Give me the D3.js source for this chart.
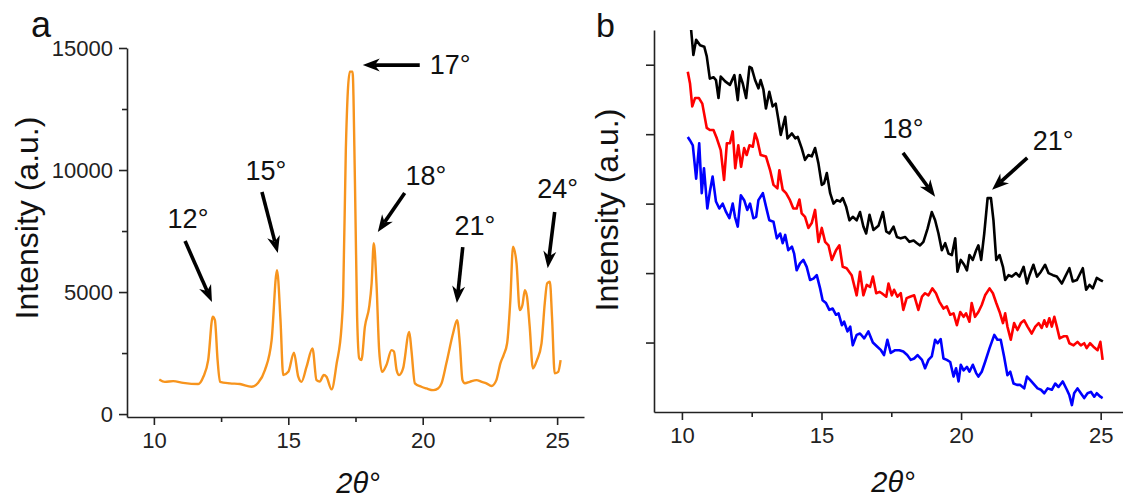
<!DOCTYPE html>
<html>
<head>
<meta charset="utf-8">
<script src="https://cdn.jsdelivr.net/npm/d3@7"></script>
<style>
  body { margin: 0; background: #fff; }
  svg { display: block; font-family: Arial, "Liberation Sans", sans-serif; }
  .axis path, .axis line { stroke: #222; stroke-width: 1.6; }
</style>
</head>
<body>
<svg id="chart" width="1123" height="498"></svg>
<script>
// Panel a: XRD pattern (2theta, intensity)
var aTheta = [10.2, 10.41, 10.72, 11.09, 11.65, 11.84, 12.02, 12.19, 12.27, 12.37, 12.46, 12.83, 13.2, 13.64, 13.88,
  14.13, 14.38, 14.58, 14.71, 14.81, 15.0, 15.21, 15.37, 15.49, 15.68, 15.9, 16.05, 16.17, 16.32, 16.42, 16.61, 16.8,
  16.98, 17.04, 17.14, 17.29, 17.39, 17.48, 17.56, 17.64, 17.72, 17.85, 18.01, 18.1, 18.18, 18.28, 18.38, 18.49, 18.65,
  18.84, 18.93, 19.03, 19.12, 19.27, 19.5, 19.58, 19.71, 19.95, 20.14, 20.39, 20.57, 20.7, 20.88, 21.13, 21.28, 21.38,
  21.48, 21.57, 21.75, 22.0, 22.2, 22.37, 22.56, 22.74, 22.89, 23.01, 23.14, 23.26, 23.36, 23.49, 23.61, 23.71, 23.8,
  23.88, 23.98, 24.1, 24.25, 24.42, 24.54, 24.63, 24.73, 24.81, 24.91, 25.04, 25.13];
var aIntensity = [1420, 1320, 1350, 1280, 1230, 1530, 2210, 3990, 3850, 2210, 1320, 1260, 1230, 1120, 1280,
  1800, 3030, 5900, 3850, 1600, 1730, 2510, 1530, 1320, 1940, 2690, 1390, 1330, 1600, 1530, 1010, 2080,
  3580, 4810, 10820, 14030, 14030, 9470, 3990, 2280, 2210, 3580, 4400, 5360, 7000, 5360, 2620, 1730, 2010,
  2620, 2560, 1800, 1600, 1870, 3370, 2620, 1260, 1120, 1050, 980, 1050, 1260, 2080, 3310, 3850, 2900,
  1390, 1260, 1320, 1390, 1320, 1260, 1150, 1390, 2080, 2420, 2900, 4670, 6860, 6180, 4260, 4470, 5080,
  4810, 3580, 1870, 2210, 2900, 4540, 5360, 5420, 3990, 1670, 1730, 2210];

// Panel b: three offset patterns [2theta, intensity a.u.]
var bBlack = [[10.33,5.5],[10.41,5.14],[10.51,5.36],[10.65,5.28],[10.8,5.26],[10.89,5.12],[11.0,4.8],[11.13,4.82],[11.22,4.78],[11.31,4.52],[11.39,4.83],[11.55,4.76],[11.72,4.71],[11.88,4.85],[12.0,4.49],[12.08,4.85],[12.18,4.73],[12.3,4.52],[12.42,4.97],[12.5,4.95],[12.62,4.78],[12.74,4.66],[12.82,4.78],[12.92,4.64],[13.01,4.37],[13.13,4.61],[13.25,4.4],[13.36,4.44],[13.46,4.2],[13.54,3.99],[13.7,4.25],[13.78,3.94],[13.94,4.01],[14.06,3.94],[14.15,3.96],[14.29,3.8],[14.41,3.63],[14.53,3.7],[14.65,3.68],[14.77,3.8],[14.89,3.58],[15.01,3.27],[15.09,3.29],[15.19,3.44],[15.31,3.15],[15.43,3.0],[15.55,3.05],[15.67,3.03],[15.76,3.08],[15.88,2.96],[16.0,2.76],[16.12,2.81],[16.26,2.76],[16.38,2.88],[16.5,2.67],[16.6,2.57],[16.72,2.84],[16.86,2.62],[17.04,2.68],[17.2,2.88],[17.32,2.6],[17.43,2.57],[17.58,2.67],[17.7,2.52],[17.84,2.5],[18.0,2.52],[18.15,2.45],[18.3,2.47],[18.42,2.43],[18.53,2.4],[18.65,2.45],[18.8,2.64],[18.95,2.88],[19.07,2.76],[19.19,2.57],[19.31,2.33],[19.43,2.43],[19.55,2.28],[19.67,2.26],[19.79,2.5],[19.87,2.02],[19.99,2.19],[20.11,2.12],[20.21,2.04],[20.3,2.26],[20.42,2.19],[20.54,2.33],[20.62,2.4],[20.72,2.19],[20.83,2.57],[20.95,3.08],[21.07,3.08],[21.16,2.76],[21.26,2.19],[21.38,2.26],[21.5,2.09],[21.58,1.9],[21.7,1.97],[21.82,1.95],[21.97,2.0],[22.09,1.95],[22.24,2.09],[22.36,1.85],[22.45,1.97],[22.59,2.12],[22.72,1.95],[22.86,2.02],[23.01,2.12],[23.13,2.0],[23.29,1.97],[23.43,1.95],[23.61,1.85],[23.73,1.95],[23.88,2.07],[24.0,1.88],[24.15,1.9],[24.36,2.07],[24.48,1.76],[24.6,1.83],[24.72,1.78],[24.86,1.93],[24.99,1.9],[25.08,1.88]];
var bRed = [[10.21,4.9],[10.29,4.73],[10.37,4.4],[10.47,4.52],[10.61,4.52],[10.73,4.44],[10.89,4.09],[11.0,4.06],[11.13,4.06],[11.25,3.94],[11.39,3.77],[11.51,3.34],[11.61,3.87],[11.72,3.87],[11.82,4.04],[11.91,3.51],[12.02,3.84],[12.12,3.53],[12.23,3.8],[12.32,3.7],[12.42,3.84],[12.54,3.82],[12.62,4.01],[12.7,3.92],[12.82,3.7],[13.01,3.68],[13.16,3.48],[13.28,3.27],[13.42,3.22],[13.49,3.48],[13.61,3.2],[13.73,3.15],[13.87,3.05],[13.99,2.93],[14.11,2.93],[14.21,3.06],[14.29,2.86],[14.41,2.81],[14.53,2.65],[14.65,2.72],[14.77,2.91],[14.89,2.45],[15.01,2.65],[15.13,2.45],[15.25,2.4],[15.37,2.19],[15.52,2.33],[15.64,2.4],[15.76,2.09],[15.9,2.07],[16.08,1.97],[16.26,1.68],[16.38,2.02],[16.5,1.68],[16.62,1.83],[16.74,1.8],[16.84,1.95],[16.96,1.71],[17.08,1.73],[17.16,1.71],[17.32,1.66],[17.4,1.85],[17.52,1.68],[17.6,1.76],[17.72,1.66],[17.84,1.71],[17.93,1.47],[18.05,1.64],[18.17,1.66],[18.32,1.68],[18.47,1.47],[18.6,1.66],[18.71,1.71],[18.83,1.68],[18.97,1.78],[19.1,1.71],[19.22,1.59],[19.37,1.49],[19.49,1.52],[19.61,1.4],[19.73,1.42],[19.85,1.25],[19.97,1.44],[20.09,1.37],[20.18,1.42],[20.3,1.3],[20.38,1.57],[20.5,1.37],[20.62,1.44],[20.74,1.54],[20.86,1.68],[21.02,1.78],[21.14,1.71],[21.26,1.57],[21.38,1.44],[21.5,1.28],[21.58,1.42],[21.66,1.23],[21.78,1.04],[21.9,1.28],[22.02,1.18],[22.14,1.28],[22.26,1.32],[22.38,1.23],[22.53,1.13],[22.66,1.23],[22.78,1.28],[22.89,1.21],[22.98,1.32],[23.07,1.23],[23.16,1.35],[23.25,1.23],[23.34,1.37],[23.43,1.23],[23.53,1.06],[23.67,1.09],[23.79,1.09],[23.88,0.99],[24.03,0.96],[24.17,1.01],[24.29,0.96],[24.41,0.99],[24.5,0.92],[24.62,0.99],[24.74,0.94],[24.89,0.89],[24.99,1.01],[25.07,0.75]];
var bBlue = [[10.21,3.96],[10.29,3.91],[10.39,3.84],[10.51,3.36],[10.62,3.87],[10.71,3.15],[10.79,3.51],[10.91,2.93],[11.0,3.17],[11.1,3.39],[11.22,3.03],[11.34,2.93],[11.46,3.0],[11.58,2.88],[11.7,2.79],[11.82,3.0],[11.9,2.81],[12.0,2.67],[12.11,3.12],[12.23,3.05],[12.34,2.91],[12.44,3.0],[12.56,2.79],[12.66,2.81],[12.74,3.05],[12.9,3.15],[13.04,2.91],[13.13,2.76],[13.28,2.74],[13.4,2.5],[13.52,2.57],[13.61,2.43],[13.7,2.55],[13.81,2.33],[13.94,2.38],[14.02,2.28],[14.11,2.04],[14.23,2.14],[14.35,2.19],[14.47,2.09],[14.59,1.9],[14.71,1.92],[14.83,1.97],[14.95,1.78],[15.04,1.61],[15.16,1.57],[15.28,1.47],[15.4,1.49],[15.52,1.4],[15.61,1.42],[15.73,1.25],[15.81,1.3],[15.93,1.16],[16.03,1.23],[16.12,0.96],[16.26,1.11],[16.38,1.13],[16.53,1.06],[16.68,1.16],[16.84,1.0],[17.0,0.94],[17.13,0.89],[17.24,0.82],[17.36,1.04],[17.48,0.85],[17.64,0.89],[17.79,0.89],[17.93,0.87],[18.07,0.82],[18.2,0.75],[18.32,0.77],[18.44,0.82],[18.6,0.75],[18.71,0.63],[18.83,0.75],[18.95,0.8],[19.07,1.04],[19.16,0.99],[19.27,1.05],[19.37,0.77],[19.49,0.75],[19.61,0.72],[19.73,0.51],[19.82,0.63],[19.91,0.44],[19.99,0.68],[20.09,0.6],[20.21,0.65],[20.3,0.58],[20.42,0.68],[20.54,0.56],[20.62,0.51],[20.74,0.58],[20.86,0.72],[21.02,0.92],[21.19,1.11],[21.3,1.04],[21.42,1.04],[21.54,0.8],[21.66,0.53],[21.76,0.58],[21.88,0.41],[22.0,0.39],[22.12,0.39],[22.26,0.34],[22.36,0.51],[22.48,0.46],[22.59,0.41],[22.74,0.34],[22.86,0.32],[22.98,0.27],[23.1,0.34],[23.25,0.32],[23.37,0.41],[23.49,0.36],[23.64,0.44],[23.79,0.32],[23.88,0.24],[23.97,0.1],[24.05,0.27],[24.17,0.34],[24.29,0.27],[24.41,0.2],[24.53,0.27],[24.65,0.29],[24.77,0.22],[24.86,0.27],[24.99,0.22],[25.07,0.2]];

// Tick values
var xTicks = [10, 15, 20, 25];
var xMinorTicks = [12.5, 17.5, 22.5];
var aYTicks = [0, 5000, 10000, 15000];
var aYMinorTicks = [2500, 7500, 12500];
var bYTicks = [1, 2, 3, 4, 5];

// Peak annotations: label, label position, arrow tail, arrow tip (data units)
var aPeaks = [
  {label: "12°", lx: 11.27, ly: 7620, anchor: "middle", t: [11.16, 7090], h: [12.16, 4590]},
  {label: "15°", lx: 14.17, ly: 9590, anchor: "middle", t: [14.02, 9100], h: [14.61, 6600]},
  {label: "17°", lx: 20.26, ly: 13940, anchor: "start", t: [19.89, 14300], h: [17.77, 14300]},
  {label: "18°", lx: 20.12, ly: 9385, anchor: "middle", t: [19.33, 9060], h: [18.33, 7460]},
  {label: "21°", lx: 21.94, ly: 7340, anchor: "middle", t: [21.49, 6840], h: [21.27, 4550]},
  {label: "24°", lx: 25.02, ly: 8850, anchor: "middle", t: [24.91, 8280], h: [24.65, 5980]}
];
var bPeaks = [
  {label: "18°", lx: 17.92, ly: 3.95, anchor: "middle", t: [17.92, 3.73], h: [19.07, 3.1]},
  {label: "21°", lx: 23.3, ly: 3.77, anchor: "middle", t: [22.37, 3.66], h: [21.11, 3.2]}
];

var svg = d3.select("#chart");

// Scales
var xa = d3.scaleLinear().domain([9, 26]).range([127, 584]);
var ya = d3.scaleLinear().domain([-120, 15000]).range([417, 48]);
var xb = d3.scaleLinear().domain([9, 25.8]).range([654, 1123]);
var yb = d3.scaleLinear().domain([0, 5.5]).range([412, 30]);

// Draw an Origin-style notched arrow from tail to tip
function drawArrow(g, x1, y1, x2, y2) {
  var dx = x2 - x1, dy = y2 - y1;
  var len = Math.sqrt(dx * dx + dy * dy);
  var ux = dx / len, uy = dy / len;
  var px = -uy, py = ux;
  var headLen = 17, headW = 6.5, notch = 5;
  var bx = x2 - ux * headLen, by = y2 - uy * headLen;
  g.append("line")
    .attr("x1", x1).attr("y1", y1)
    .attr("x2", x2 - ux * (headLen - notch)).attr("y2", y2 - uy * (headLen - notch))
    .attr("stroke", "#000").attr("stroke-width", 3.6);
  var pts = [
    [x2, y2],
    [bx + px * headW, by + py * headW],
    [x2 - ux * (headLen - notch), y2 - uy * (headLen - notch)],
    [bx - px * headW, by - py * headW]
  ];
  g.append("path")
    .attr("d", "M" + pts.map(function(p) { return p[0] + "," + p[1]; }).join("L") + "Z")
    .attr("fill", "#000");
}

function styleTicks(sel) {
  sel.selectAll("text")
    .style("font-size", "22px")
    .style("font-family", "Arial, 'Liberation Sans', sans-serif")
    .style("fill", "#222");
}

function drawPanel(x, y, yTicks, yMinor, axisY, axisX, series, peaks, lineW, curve) {
  var g = svg.append("g");

  // X axis
  g.append("g").attr("class", "axis")
    .attr("transform", "translate(0," + axisY + ")")
    .call(d3.axisBottom(x).tickValues(xTicks).tickSize(8).tickSizeOuter(0).tickPadding(7))
    .call(styleTicks);
  g.append("g").attr("class", "axis")
    .attr("transform", "translate(0," + axisY + ")")
    .call(d3.axisBottom(x).tickValues(xMinorTicks).tickSize(5).tickFormat(""))
    .select(".domain").remove();

  // Y axis
  g.append("g").attr("class", "axis")
    .attr("transform", "translate(" + axisX + ",0)")
    .call(d3.axisLeft(y).tickValues(yTicks).tickSize(8).tickSizeOuter(0).tickPadding(6)
      .tickFormat(yMinor ? d3.format("d") : ""))
    .call(styleTicks);
  if (yMinor) {
    g.append("g").attr("class", "axis")
      .attr("transform", "translate(" + axisX + ",0)")
      .call(d3.axisLeft(y).tickValues(yMinor).tickSize(5).tickFormat(""))
      .select(".domain").remove();
  }

  // Data lines
  series.forEach(function(s) {
    g.append("path")
      .datum(s.data)
      .attr("fill", "none")
      .attr("stroke", s.color)
      .attr("stroke-width", lineW)
      .attr("stroke-linejoin", "round")
      .attr("d", d3.line().curve(curve).x(function(d) { return x(d[0]); }).y(function(d) { return y(d[1]); }));
  });

  // Annotations
  peaks.forEach(function(p) {
    drawArrow(g, x(p.t[0]), y(p.t[1]), x(p.h[0]), y(p.h[1]));
    g.append("text")
      .attr("x", x(p.lx)).attr("y", y(p.ly))
      .attr("text-anchor", p.anchor)
      .attr("font-size", 27)
      .attr("fill", "#111")
      .text(p.label);
  });
  return g;
}

var aData = aTheta.map(function(t, i) { return [t, aIntensity[i]]; });

drawPanel(xa, ya, aYTicks, aYMinorTicks, 417, 127,
  [{data: aData, color: "#f7941d"}], aPeaks, 2.4, d3.curveMonotoneX);
drawPanel(xb, yb, bYTicks, null, 412, 654,
  [{data: bBlack, color: "#000"}, {data: bRed, color: "#ff0000"}, {data: bBlue, color: "#0000ff"}], bPeaks, 2.6, d3.curveLinear);

// Axis titles
svg.append("text").attr("transform", "translate(38,218) rotate(-90)")
  .attr("text-anchor", "middle").attr("font-size", 32).attr("fill", "#111")
  .text("Intensity (a.u.)");
svg.append("text").attr("transform", "translate(618,210) rotate(-90)")
  .attr("text-anchor", "middle").attr("font-size", 32).attr("fill", "#111")
  .text("Intensity (a.u.)");
svg.append("text").attr("x", 358).attr("y", 493)
  .attr("text-anchor", "middle").attr("font-size", 29).attr("font-style", "italic").attr("fill", "#111")
  .text("2θ°");
svg.append("text").attr("x", 893).attr("y", 492)
  .attr("text-anchor", "middle").attr("font-size", 29).attr("font-style", "italic").attr("fill", "#111")
  .text("2θ°");

// Panel letters
svg.append("text").attr("x", 31).attr("y", 37).attr("font-size", 36).attr("fill", "#111").text("a");
svg.append("text").attr("x", 596).attr("y", 37).attr("font-size", 34).attr("fill", "#111").text("b");
</script>
</body>
</html>
